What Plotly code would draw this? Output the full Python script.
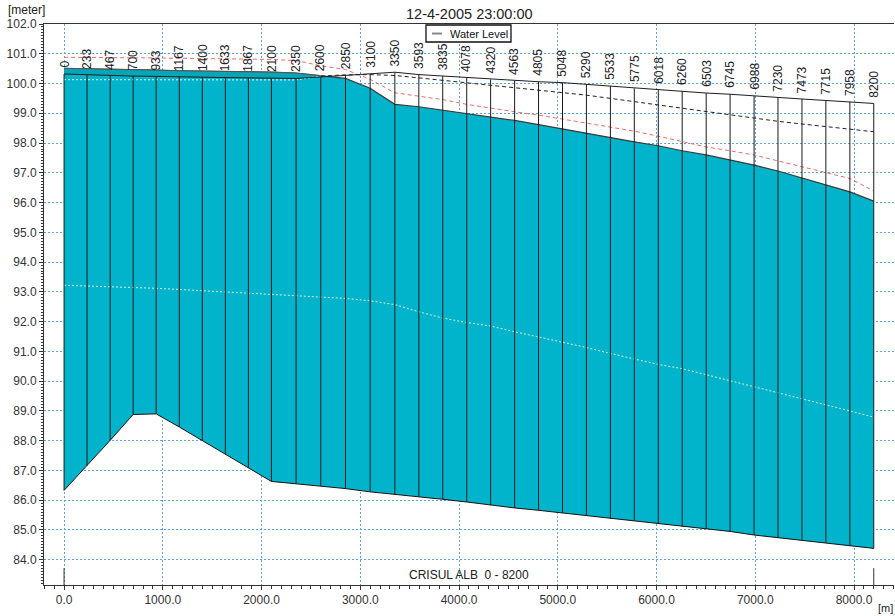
import plotly.graph_objects as go

chainage = [0, 233, 467, 700, 933, 1167, 1400, 1633, 1867, 2100, 2350, 2600, 2850, 3100, 3350,
            3593, 3835, 4078, 4320, 4563, 4805, 5048, 5290, 5533, 5775, 6018, 6260, 6503, 6745,
            6988, 7230, 7473, 7715, 7958, 8200]
chainage_labels = ["0", "233", "467", "700", "933", "1167", "1400", "1633", "1867", "2100", "2350",
                   "2600", "2850", "3100", "3350", "3593", "3835", "4078", "4320", "4563", "4805",
                   "5048", "5290", "5533", "5775", "6018", "6260", "6503", "6745", "6988", "7230",
                   "7473", "7715", "7958", "8200"]

bed_level = [86.33, 87.15, 88.01, 88.88, 88.90, 88.46, 88.01, 87.56, 87.09, 86.63, 86.55, 86.48,
             86.39, 86.28, 86.20, 86.11, 86.03, 85.94, 85.83, 85.74, 85.66, 85.57, 85.48, 85.38,
             85.31, 85.21, 85.11, 85.03, 84.95, 84.83, 84.74, 84.67, 84.57, 84.47, 84.38]

water_level = [100.51, 100.50, 100.49, 100.47, 100.45, 100.43, 100.42, 100.41, 100.41, 100.38,
               100.35, 100.26, 100.17, 99.84, 99.30, 99.22, 99.11, 99.00, 98.88, 98.76, 98.62,
               98.47, 98.33, 98.19, 98.04, 97.91, 97.74, 97.60, 97.43, 97.26, 97.06, 96.83,
               96.61, 96.36, 96.05]

bank_level = [100.32, 100.29, 100.26, 100.25, 100.24, 100.22, 100.21, 100.20, 100.19, 100.18,
              100.17, 100.22, 100.28, 100.32, 100.38, 100.30, 100.25, 100.19, 100.14, 100.09,
              100.06, 100.03, 99.97, 99.92, 99.84, 99.78, 99.74, 99.68, 99.64, 99.58, 99.54,
              99.48, 99.43, 99.39, 99.33]

dashed_level = [100.13, 100.13, 100.12, 100.12, 100.12, 100.12, 100.12, 100.12, 100.12, 100.12,
                100.12, 100.25, 100.29, 100.30, 100.27, 100.19, 100.11, 100.03, 99.95, 99.87,
                99.79, 99.70, 99.61, 99.50, 99.39, 99.28, 99.17, 99.05, 98.95, 98.83, 98.73,
                98.64, 98.56, 98.48, 98.38]

red_level = [100.88, 100.88, 100.87, 100.86, 100.86, 100.85, 100.84, 100.84, 100.83, 100.81,
             100.77, 100.60, 100.47, 100.14, 99.69, 99.57, 99.46, 99.30, 99.17, 99.05, 98.94,
             98.81, 98.68, 98.54, 98.40, 98.23, 98.05, 97.87, 97.74, 97.60, 97.40, 97.20,
             97.01, 96.81, 96.39]

mid_level = [93.22, 93.20, 93.17, 93.15, 93.12, 93.08, 93.04, 92.99, 92.95, 92.91, 92.88, 92.84,
             92.78, 92.70, 92.57, 92.33, 92.12, 91.97, 91.85, 91.66, 91.49, 91.32, 91.13, 90.93,
             90.74, 90.56, 90.42, 90.22, 90.02, 89.82, 89.62, 89.41, 89.21, 89.00, 88.79]

x_ticks = [0, 1000, 2000, 3000, 4000, 5000, 6000, 7000, 8000]

TEAL = "#02b4cb"
TEAL_DARK = "#05a6b8"
GRID = "#5da5dc"
AX = "#333333"
FONT = "Liberation Sans, Arial, sans-serif"

fig = go.Figure()

# bed level
fig.add_trace(go.Scatter(x=chainage, y=bed_level, mode="lines",
                         line=dict(color="#111111", width=1), showlegend=False, hoverinfo="skip"))
# water level with teal fill down to bed
fig.add_trace(go.Scatter(x=chainage, y=water_level, mode="lines", fill="tonexty",
                         fillcolor=TEAL, line=dict(color="#3a3a3a", width=1.2),
                         name="Water Level", showlegend=False, hoverinfo="skip"))

# darker band where water is above bank (upstream part)
n_up = chainage.index(2600) + 1
fig.add_trace(go.Scatter(x=chainage[:n_up], y=bank_level[:n_up], mode="lines",
                         line=dict(color="rgba(0,0,0,0)", width=0), showlegend=False, hoverinfo="skip"))
fig.add_trace(go.Scatter(x=chainage[:n_up], y=water_level[:n_up], mode="lines", fill="tonexty",
                         fillcolor=TEAL_DARK, line=dict(color="#555555", width=1),
                         showlegend=False, hoverinfo="skip"))

# dashed level: light inside water, black outside
fig.add_trace(go.Scatter(x=chainage[:n_up], y=dashed_level[:n_up], mode="lines",
                         line=dict(color="#f4fbff", width=1, dash="2px,2px"),
                         showlegend=False, hoverinfo="skip"))
fig.add_trace(go.Scatter(x=chainage[n_up - 1:], y=dashed_level[n_up - 1:], mode="lines",
                         line=dict(color="#222222", width=1, dash="4px,3px"),
                         showlegend=False, hoverinfo="skip"))

# middle pale dotted line
fig.add_trace(go.Scatter(x=chainage, y=mid_level, mode="lines",
                         line=dict(color="#d4f2d8", width=1, dash="2px,2px"),
                         showlegend=False, hoverinfo="skip"))

# red dashed line
fig.add_trace(go.Scatter(x=chainage, y=red_level, mode="lines",
                         line=dict(color="#ef6a6a", width=1, dash="4px,3px"),
                         showlegend=False, hoverinfo="skip"))

# bank line
fig.add_trace(go.Scatter(x=chainage, y=bank_level, mode="lines",
                         line=dict(color="#1e1e1e", width=1), showlegend=False, hoverinfo="skip"))

# vertical section lines
vx, vy = [], []
for c, b, t in zip(chainage, bed_level, bank_level):
    vx += [c, c, None]
    vy += [b, t, None]
fig.add_trace(go.Scatter(x=vx, y=vy, mode="lines", line=dict(color="#1a1a1a", width=1),
                         showlegend=False, hoverinfo="skip"))

annotations = []
for c, lab, t in zip(chainage, chainage_labels, bank_level):
    annotations.append(dict(x=c, y=t, xref="x", yref="y", text=lab, textangle=-90,
                            showarrow=False, xanchor="center", yanchor="bottom", yshift=4,
                            font=dict(family=FONT, size=12, color="#222222")))

annotations += [
    dict(x=0.5, y=1, xref="paper", yref="paper", text="12-4-2005 23:00:00", showarrow=False,
         xanchor="center", yanchor="middle", yshift=10,
         font=dict(family=FONT, size=14.5, color="#222222")),
    dict(x=0, y=1, xref="paper", yref="paper", text="[meter]", showarrow=False,
         xanchor="center", yanchor="middle", xshift=-18, yshift=14,
         font=dict(family=FONT, size=12, color="#222222")),
    dict(x=0.5, y=0, xref="paper", yref="paper", text="CRISUL ALB\u00a0\u00a00 - 8200",
         showarrow=False, xanchor="center", yanchor="middle", yshift=10,
         font=dict(family=FONT, size=12, color="#222222")),
    dict(x=1, y=0, xref="paper", yref="paper", text="[m]", showarrow=False,
         xanchor="right", yanchor="bottom", yshift=-30, borderpad=0,
         font=dict(family=FONT, size=11, color="#222222")),
    dict(x=0.4753, y=0.983, xref="paper", yref="paper", text="Water Level", showarrow=False,
         xanchor="left", yanchor="middle",
         font=dict(family=FONT, size=11, color="#111111")),
]

shapes = [
    dict(type="rect", xref="paper", yref="paper", x0=0.4494, x1=0.5494, y0=0.9679, y1=0.9982,
         fillcolor="white", line=dict(color="#111111", width=1.3), layer="above"),
    dict(type="line", xref="paper", yref="paper", x0=0.4565, x1=0.4682, y0=0.983, y1=0.983,
         line=dict(color="#888888", width=2), layer="above"),
    dict(type="line", xref="x", yref="paper", x0=chainage[0], x1=chainage[0], y0=0, y1=0.03,
         line=dict(color="#333333", width=1)),
    dict(type="line", xref="x", yref="paper", x0=chainage[-1], x1=chainage[-1], y0=0, y1=0.03,
         line=dict(color="#333333", width=1)),
]

fig.update_layout(
    width=895, height=616,
    margin=dict(l=44, r=1, t=24, b=31, autoexpand=False),
    paper_bgcolor="white", plot_bgcolor="white",
    showlegend=False,
    annotations=annotations, shapes=shapes,
    font=dict(family=FONT, size=12, color="#333333"),
)

fig.update_xaxes(
    range=[-203, 8405], tickvals=x_ticks, tickformat=".1f", automargin=False,
    showgrid=True, gridcolor=GRID, griddash="2px,2px", gridwidth=1, zeroline=False,
    showline=True, linecolor=AX, linewidth=1, mirror=True,
    ticks="outside", ticklen=4, tickcolor=AX,
    minor=dict(ticks="outside", dtick=100, tick0=0, ticklen=3, tickcolor=AX, showgrid=False),
    tickfont=dict(family=FONT, size=12, color="#333333"),
)
fig.update_yaxes(
    range=[83.15, 102.0], dtick=1, tick0=0, tickformat=".1f", automargin=False,
    showgrid=True, gridcolor=GRID, griddash="2px,2px", gridwidth=1, zeroline=False,
    showline=True, linecolor=AX, linewidth=1,
    ticks="outside", ticklen=4, tickcolor=AX,
    minor=dict(ticks="outside", dtick=0.1, tick0=0, ticklen=2, tickcolor=AX, showgrid=False),
    tickfont=dict(family=FONT, size=12, color="#333333"),
)

fig.write_html(
    "out.html",
    config={"displayModeBar": False},
    post_script="document.body.style.margin='0';document.body.style.overflow='hidden';",
)
